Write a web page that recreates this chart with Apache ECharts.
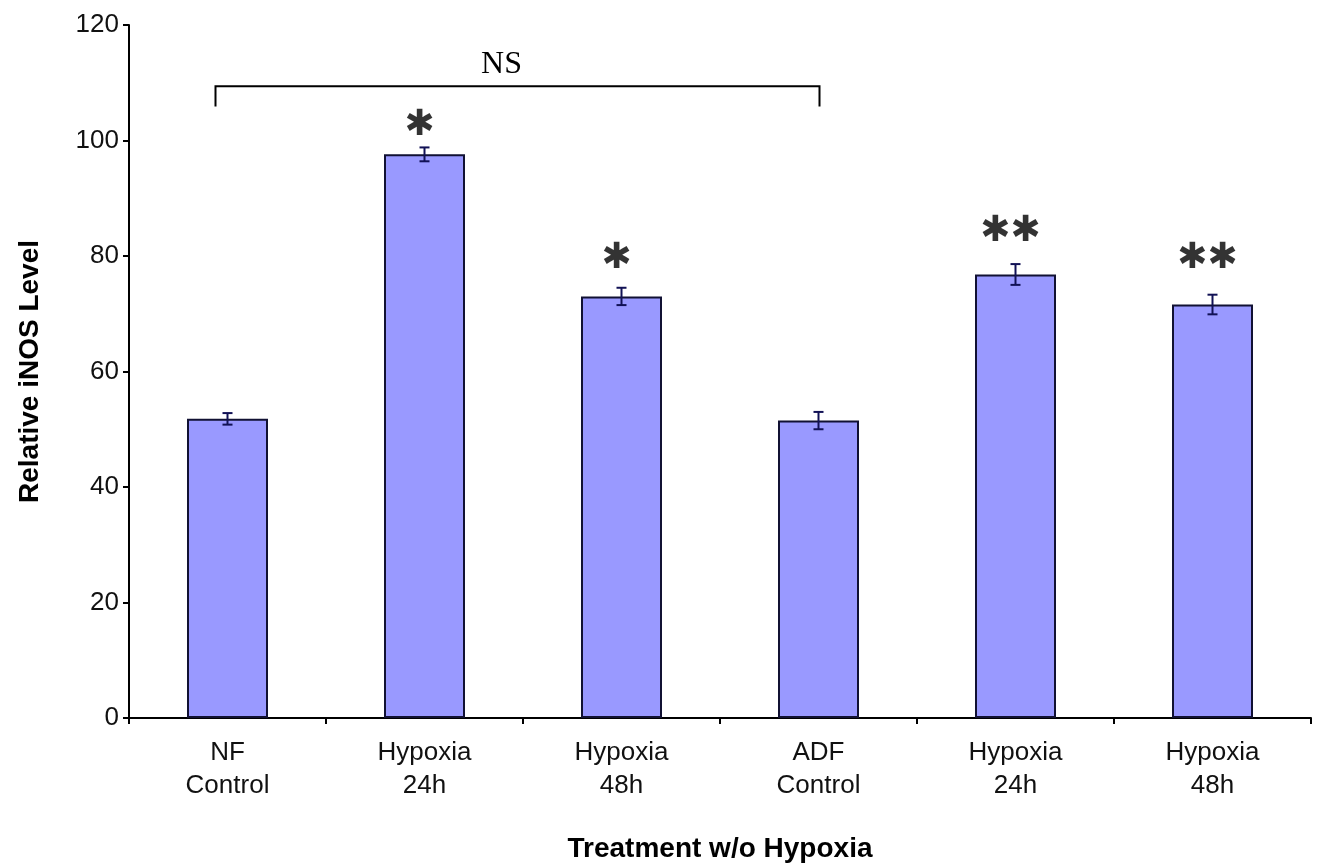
<!DOCTYPE html>
<html><head><meta charset="utf-8">
<script src="https://cdn.jsdelivr.net/npm/echarts@6/dist/echarts.min.js"></script>
<style>html,body{margin:0;padding:0;background:#fff}#c{width:1319px;height:867px}</style>
</head><body><div id="c"></div>
<script>
const categories = ['NF\nControl','Hypoxia\n24h','Hypoxia\n48h','ADF\nControl','Hypoxia\n24h','Hypoxia\n48h'];
const values = [51.8, 97.6, 73.0, 51.5, 76.8, 71.6];
const errors = [1.0, 1.2, 1.5, 1.5, 1.8, 1.7];
const stars = ['', '✱', '✱', '', '✱✱', '✱✱'];
const starHeights = [null, 103.3, 80.3, null, 84.9, 80.3];
const yTicks = [0, 20, 40, 60, 80, 100, 120];
const bracket = {from: 0, to: 3, top: 109.4, bottom: 105.9, text: 'NS'};

const chart = echarts.init(document.getElementById('c'));
chart.setOption({
  animation: false,
  backgroundColor: '#fff',
  grid: {left: 129, right: 8, top: 25, bottom: 149, containLabel: false, outerBoundsMode: 'none'},
  xAxis: {
    type: 'category', data: categories, boundaryGap: true,
    name: 'Treatment w/o Hypoxia', nameLocation: 'middle', nameGap: 117,
    nameTextStyle: {fontFamily: 'Liberation Sans', fontWeight: 'bold', fontSize: 28, color: '#000'},
    axisLine: {lineStyle: {color: '#000', width: 2}},
    axisTick: {show: true, alignWithLabel: false, length: 6, lineStyle: {color: '#000', width: 2}},
    axisLabel: {fontFamily: 'Liberation Sans', fontSize: 26, color: '#111', lineHeight: 33, margin: 18}
  },
  yAxis: {
    type: 'value', min: yTicks[0], max: yTicks[yTicks.length-1], interval: 20,
    name: 'Relative iNOS Level', nameLocation: 'middle', nameGap: 85, nameRotate: 90,
    nameTextStyle: {fontFamily: 'Liberation Sans', fontWeight: 'bold', fontSize: 28, color: '#000'},
    axisLine: {show: true, lineStyle: {color: '#000', width: 2}},
    axisTick: {show: true, length: 6, lineStyle: {color: '#000', width: 2}},
    axisLabel: {fontFamily: 'Liberation Sans', fontSize: 26, color: '#111', margin: 10},
    splitLine: {show: false}
  },
  series: [
    {
      type: 'bar', data: values, barWidth: 81,
      itemStyle: {color: '#9999FF', borderColor: '#111133', borderWidth: 2}
    },
    {
      type: 'custom',
      data: values.map((v, i) => [i, v - errors[i], v + errors[i]]),
      renderItem: function (params, api) {
        const lo = api.coord([api.value(0), api.value(1)]);
        const hi = api.coord([api.value(0), api.value(2)]);
        const w = 5;
        const st = {stroke: '#111155', lineWidth: 2};
        return {type: 'group', children: [
          {type: 'line', shape: {x1: lo[0], y1: lo[1], x2: hi[0], y2: hi[1]}, style: st},
          {type: 'line', shape: {x1: hi[0]-w, y1: hi[1], x2: hi[0]+w, y2: hi[1]}, style: st},
          {type: 'line', shape: {x1: lo[0]-w, y1: lo[1], x2: lo[0]+w, y2: lo[1]}, style: st}
        ]};
      },
      z: 5
    },
    {
      type: 'scatter', symbolSize: 0,
      data: starHeights.map((h, i) => h == null ? null : {value: [i, h], name: stars[i]}),
      label: {show: true, position: 'inside', formatter: p => p.name,
        fontFamily: 'DejaVu Sans', fontWeight: 'bold', fontSize: 36, color: '#000',
        textBorderWidth: 0, offset: [-5, 4]},
      z: 6
    },
    {
      type: 'custom',
      data: [[bracket.from, bracket.to, bracket.top, bracket.bottom]],
      renderItem: function (params, api) {
        const a = api.coord([api.value(0), api.value(2)]);
        const b = api.coord([api.value(1), api.value(2)]);
        const aB = api.coord([api.value(0), api.value(3)]);
        const x1 = a[0] - 12, x2 = b[0] + 1;
        const st = {stroke: '#000', lineWidth: 2, fill: null};
        return {type: 'group', children: [
          {type: 'polyline', shape: {points: [[x1, aB[1]], [x1, a[1]], [x2, a[1]], [x2, aB[1]]]}, style: st},
          {type: 'text', x: (x1 + x2) / 2 - 16, y: a[1] - 6,
            style: {text: bracket.text, font: '32px "Liberation Serif"', fill: '#000', align: 'center', verticalAlign: 'bottom'}}
        ]};
      },
      z: 6
    }
  ]
});
</script></body></html>
